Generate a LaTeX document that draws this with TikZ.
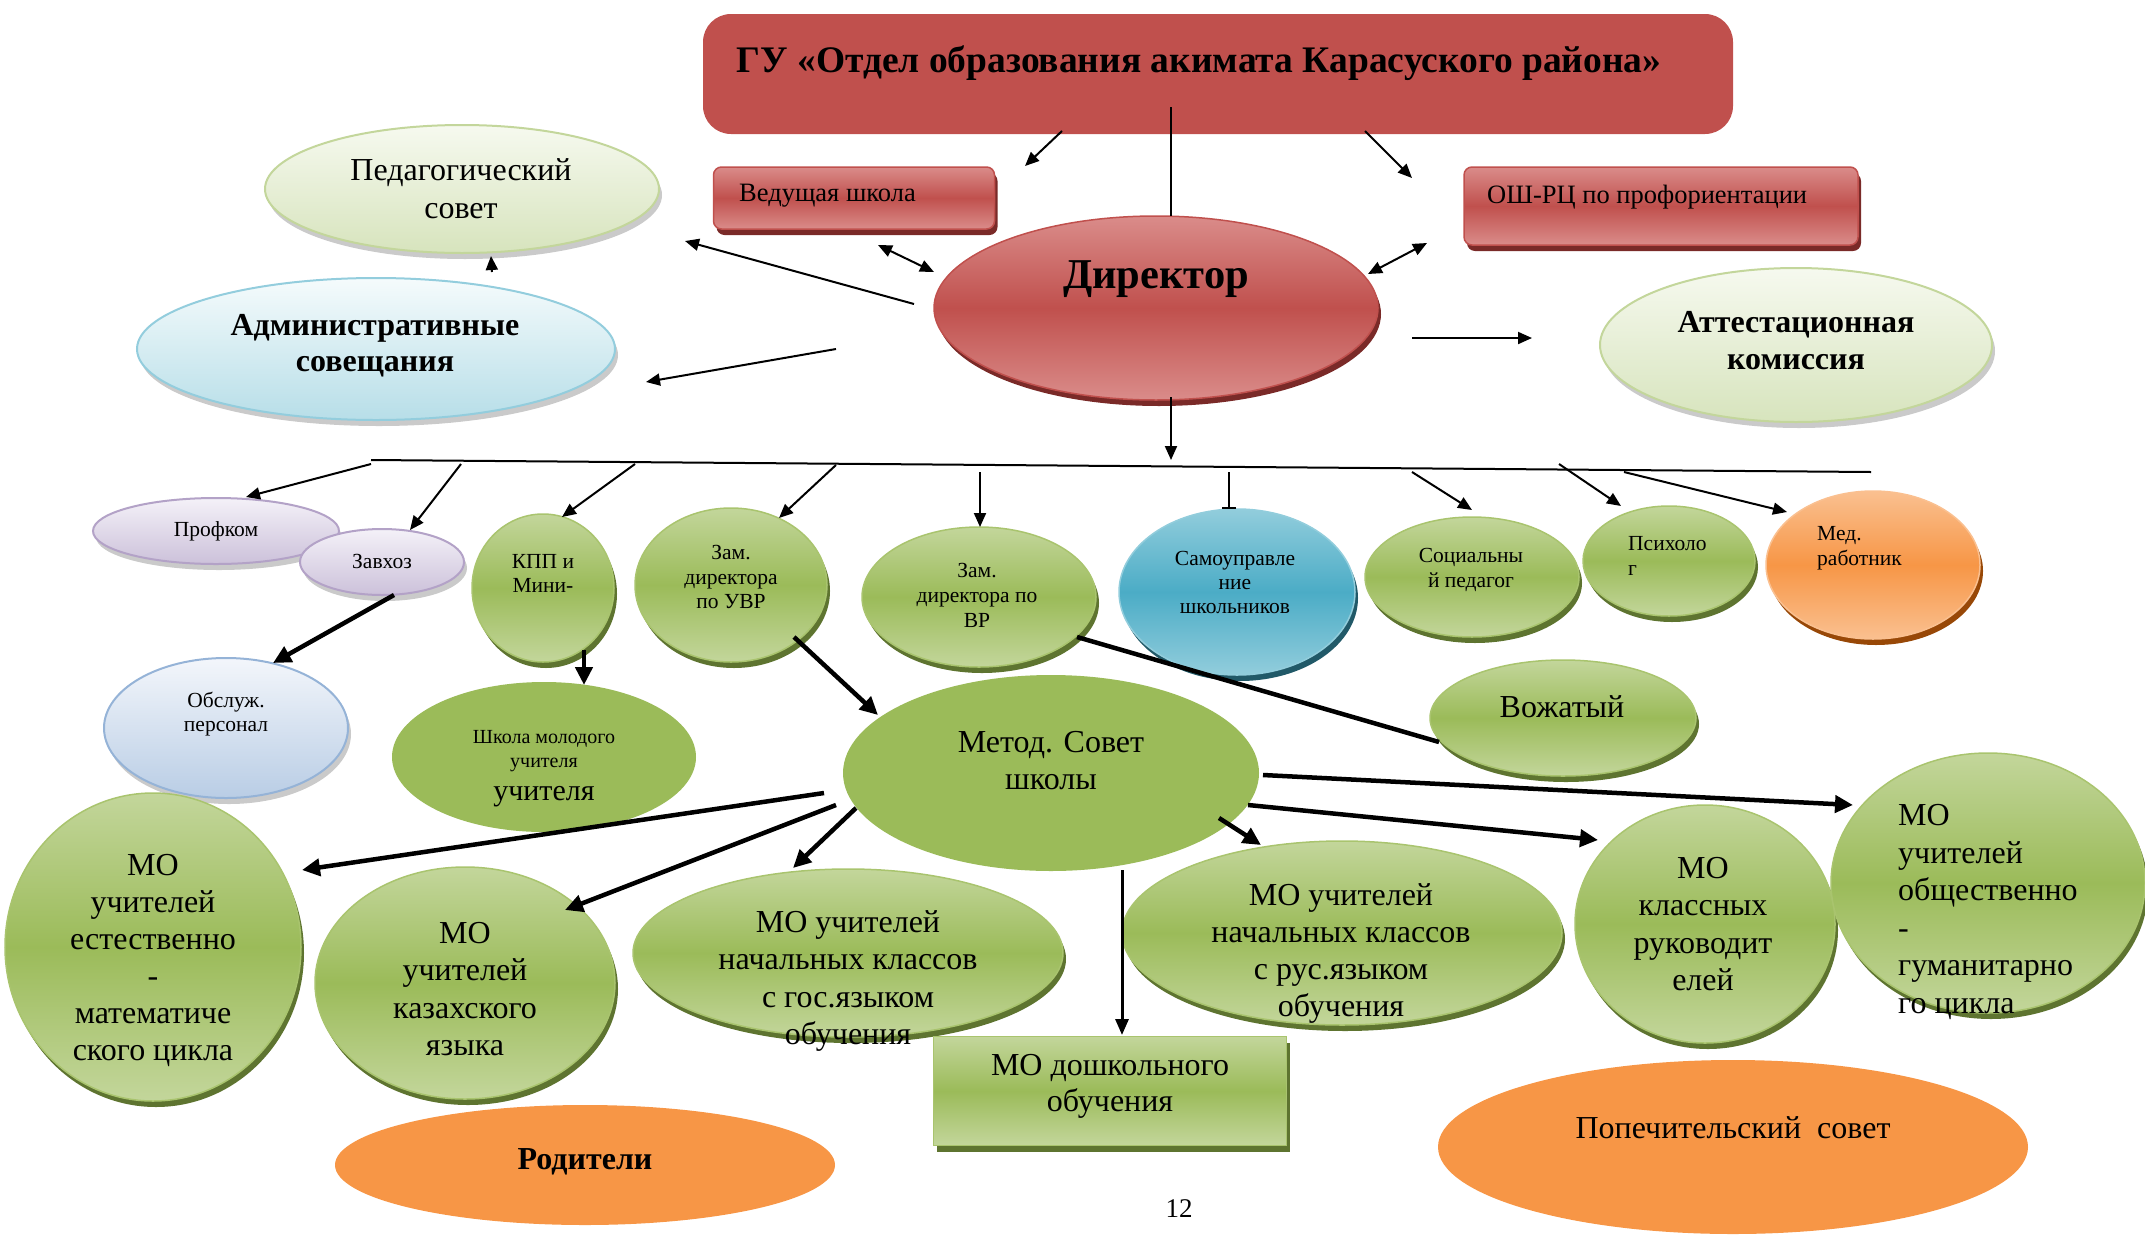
\documentclass[tikz,border=0pt]{standalone}
\usepackage{fontspec}
\setmainfont{Liberation Serif}
\usetikzlibrary{shapes.geometric,arrows.meta,shadows}
\definecolor{rM}{HTML}{C0504D}\definecolor{rL}{HTML}{DA8C8A}\definecolor{rD}{HTML}{7A2A28}
\definecolor{gM}{HTML}{9BBB59}\definecolor{gL}{HTML}{C3D69B}\definecolor{gD}{HTML}{5E7430}\definecolor{gB}{HTML}{A9C46E}
\definecolor{bM}{HTML}{4BACC6}\definecolor{bL}{HTML}{92CDDC}\definecolor{bD}{HTML}{215968}
\definecolor{oM}{HTML}{F79646}\definecolor{oL}{HTML}{FAC090}\definecolor{oD}{HTML}{984807}
\definecolor{lavT}{HTML}{F4F1F8}\definecolor{lavB}{HTML}{CCC1DA}\definecolor{lavE}{HTML}{B3A2C7}
\definecolor{pgT}{HTML}{F6F9EF}\definecolor{pgB}{HTML}{D7E4BD}\definecolor{pgE}{HTML}{C3D69B}
\definecolor{abT}{HTML}{F5FBFC}\definecolor{abB}{HTML}{B7DEE8}\definecolor{abE}{HTML}{93CDDD}
\definecolor{obT}{HTML}{F3F6FB}\definecolor{obB}{HTML}{B9CDE5}\definecolor{obE}{HTML}{95B3D7}
\newcommand\fsz[2]{\fontsize{#1}{#2}\selectfont}
\tikzset{
  ws/.style 2 args={minimum width=#1pt,minimum height=#2pt},
  ell/.style={ellipse,inner sep=0pt},
  box/.style={rectangle,inner sep=0pt},
  shd/.style={drop shadow={shadow xshift=3pt,shadow yshift=-6pt,fill=#1,opacity=1}},
  grn/.style={ell,top color=gL,bottom color=gL,middle color=gM,draw=gB,line width=1.5pt,shd=gD},
  grnbox/.style={box,top color=gL,bottom color=gL,middle color=gM,draw=gB,line width=1.5pt,shd=gD},
  grnflat/.style={ell,fill=gM},
  red3/.style={top color=rL,bottom color=rL,middle color=rM,draw=rM,line width=1.5pt,shd=rD},
  blu/.style={ell,top color=bL,bottom color=bL,middle color=bM,draw=bL,line width=1.5pt,shd=bD},
  org/.style={ell,top color=oL,bottom color=oL,middle color=oM,draw=oL,line width=1.5pt,shd=oD},
  orgflat/.style={ell,fill=oM},
  pale/.style n args={3}{ell,top color=#1,bottom color=#2,draw=#3,line width=2pt,
     drop shadow={shadow xshift=3pt,shadow yshift=-6pt,fill=black!35,opacity=0.6}},
  txt/.style={align=center,inner sep=0pt},
  ta/.style={line width=2pt,-{Triangle[length=14pt,width=12pt]}},
  tb/.style={line width=4.5pt,-{Triangle[length=18pt,width=17pt]}},
  tc/.style={line width=3pt,-{Triangle[length=16pt,width=13pt]}},
  td/.style={line width=2pt,{Triangle[length=14pt,width=12pt]}-{Triangle[length=14pt,width=12pt]}},
}
\begin{document}
\begin{tikzpicture}[x=1pt,y=-1pt]
\useasboundingbox (0,0) rectangle (2145,1240);
% ---- nodes ----
\node[box,ws={1030}{120},fill=rM,rounded corners=28pt] (gu) at (1218,74) {};
\node[box,ws={281}{62},red3,rounded corners=8pt] (ved) at (854,198) {};
\node[box,ws={394}{78},red3,rounded corners=8pt] (osh) at (1661,206) {};
\node[ell,ws={444}{184},red3] (dir) at (1156,308) {};
\node[pale={pgT}{pgB}{pgE},ws={394}{128}] (ped) at (462,189) {};
\node[pale={abT}{abB}{abE},ws={478}{142}] (adm) at (376,349) {};
\node[pale={pgT}{pgB}{pgE},ws={392}{154}] (att) at (1796,345) {};
\node[pale={lavT}{lavB}{lavE},ws={246}{66}] (prof) at (216,531) {};
\node[pale={lavT}{lavB}{lavE},ws={164}{66}] (zav) at (382,562) {};
\node[grn,ws={142}{148}] (kpp) at (543,588) {};
\node[grn,ws={192}{154}] (uvr) at (731,585) {};
\node[grn,ws={234}{140}] (vr) at (979,597) {};
\node[blu,ws={236}{166}] (self) at (1237,592) {};
\node[grn,ws={214}{120}] (soc) at (1472,577) {};
\node[grn,ws={172}{110}] (psy) at (1669,561) {};
\node[org,ws={214}{148}] (med) at (1873,565) {};
\node[pale={obT}{obB}{obE},ws={244}{140}] (obs) at (226,728) {};
\node[grnflat,ws={304}{150}] (shk) at (544,757) {};
\node[grnflat,ws={416}{196}] (met) at (1051,773) {};
\node[grn,ws={266}{116}] (voz) at (1563,718) {};
\node[grn,ws={296}{308}] (moe) at (153,947) {};
\node[grn,ws={300}{232}] (mok) at (465,983) {};
\node[grn,ws={430}{168}] (mng) at (848,953) {};
\node[grn,ws={440}{184}] (mnr) at (1342,933) {};
\node[grnbox,ws={353}{109}] (mdo) at (1110,1091) {};
\node[grn,ws={260}{238}] (mkl) at (1705,924) {};
\node[grn,ws={314}{260}] (mob) at (1988,883) {};
\node[orgflat,ws={500}{120}] (rod) at (585,1165) {};
\node[orgflat,ws={590}{174}] (pop) at (1733,1147) {};
% ---- texts ----
\node[txt,font=\fsz{37.5}{44}\bfseries] (gu-t) at (1199,63) {ГУ «Отдел образования акимата Карасуского района»};
\node[txt,anchor=west,font=\fsz{26.5}{30}] (ved-t) at (739,196) {Ведущая школа};
\node[txt,anchor=west,font=\fsz{26.5}{30}] (osh-t) at (1487,197) {ОШ-РЦ по профориентации};
\node[txt,font=\fsz{42.5}{50}\bfseries] (dir-t) at (1156,279) {Директор};
\node[txt,font=\fsz{32}{38}] (ped-t) at (461,189) {Педагогический\\совет};
\node[txt,font=\fsz{32}{36}\bfseries] (adm-t) at (375,346) {Административные\\совещания};
\node[txt,font=\fsz{32}{37}\bfseries] (att-t) at (1796,341) {Аттестационная\\комиссия};
\node[txt,font=\fsz{21.5}{24}] (prof-t) at (216,531) {Профком};
\node[txt,font=\fsz{21.5}{24}] (zav-t) at (382,561) {Завхоз};
\node[txt,font=\fsz{21.5}{24}] (kpp-t) at (543,573) {КПП и\\Мини-};
\node[txt,font=\fsz{21.5}{24.5}] (uvr-t) at (731,577) {Зам.\\директора\\по УВР};
\node[txt,font=\fsz{21.5}{25}] (vr-t) at (977,595) {Зам.\\директора по\\ВР};
\node[txt,font=\fsz{21.5}{24}] (self-t) at (1235,582) {Самоуправле\\ние\\школьников};
\node[txt,font=\fsz{21.5}{25}] (soc-t) at (1471,570) {Социальны\\й педагог};
\node[txt,align=left,anchor=west,font=\fsz{21.5}{25}] (psy-t) at (1628,556) {Психоло\\г};
\node[txt,align=left,anchor=west,font=\fsz{21.5}{25}] (med-t) at (1817,548) {Мед.\\работник};
\node[txt,font=\fsz{21.5}{24}] (obs-t) at (226,714) {Обслуж.\\персонал};
\node[txt,font=\fsz{20}{24}] (shk-t) at (544,769) {Школа молодого\\учителя\\[9pt]\fsz{30}{33}учителя};
\node[txt,font=\fsz{32}{37}] (met-t) at (1051,761) {Метод. Совет\\школы};
\node[txt,font=\fsz{32}{36}] (voz-t) at (1562,707) {Вожатый};
\node[txt,font=\fsz{32}{37}] (moe-t) at (153,960) {МО\\учителей\\естественно\\-\\математиче\\ского цикла};
\node[txt,font=\fsz{32}{37.5}] (mok-t) at (465,989) {МО\\учителей\\казахского\\языка};
\node[txt,font=\fsz{32}{37.5}] (mng-t) at (848,981) {МО учителей\\начальных классов\\с гос.языком\\обучения};
\node[txt,font=\fsz{32}{37}] (mnr-t) at (1341,953) {МО учителей\\начальных классов\\с рус.языком\\обучения};
\node[txt,font=\fsz{32}{36}] (mdo-t) at (1110,1086) {МО дошкольного\\обучения};
\node[txt,font=\fsz{32}{37.5}] (mkl-t) at (1703,924) {МО\\классных\\руководит\\елей};
\node[txt,align=left,anchor=west,font=\fsz{32}{37.5}] (mob-t) at (1898,912) {МО\\учителей\\общественно\\-\\гуманитарно\\го цикла};
\node[txt,font=\fsz{32}{36}\bfseries] (rod-t) at (585,1162) {Родители};
\node[txt,font=\fsz{32}{36}] (pop-t) at (1733,1128) {Попечительский~ совет};
\node[txt,font=\fsz{27}{30}] (pg) at (1179,1209) {12};
% ---- connector end points ----
\coordinate (hlA) at (371,460); \coordinate (hlB) at (1871,472);
\coordinate (gu1) at (1062,131); \coordinate (ved1) at (1025,166);
\coordinate (gu2) at (1365,131); \coordinate (osh1) at (1412,178);
\coordinate (gu3) at (1171,107); \coordinate (dir0) at (1171,216);
\coordinate (ved2) at (878,245); \coordinate (dir1) at (934,272);
\coordinate (dir2) at (1368,274); \coordinate (osh2) at (1427,243);
\coordinate (dir3) at (914,304); \coordinate (ped1) at (685,241);
\coordinate (ped2a) at (492,272); \coordinate (ped2) at (491,256);
\coordinate (dir4) at (836,349); \coordinate (adm1) at (646,382);
\coordinate (dir5) at (1412,338); \coordinate (att1) at (1532,338);
\coordinate (dir6) at (1171,397); \coordinate (hl0) at (1171,460);
\coordinate (h1) at (371,464); \coordinate (prof1) at (246,497);
\coordinate (h2) at (461,464); \coordinate (zav1) at (410,530);
\coordinate (h3) at (635,464); \coordinate (kpp1) at (562,517);
\coordinate (h4) at (836,465); \coordinate (uvr1) at (779,518);
\coordinate (h5) at (980,472); \coordinate (vr1) at (980,527);
\coordinate (h6) at (1229,472); \coordinate (self1) at (1229,509);
\coordinate (h7) at (1412,472); \coordinate (soc1) at (1472,510);
\coordinate (h8) at (1559,464); \coordinate (psy1) at (1621,506);
\coordinate (h9) at (1624,472); \coordinate (med1) at (1787,512);
\coordinate (zav2) at (394,595); \coordinate (obs1) at (273,663);
\coordinate (kpp2) at (584,650); \coordinate (shk1) at (584,685);
\coordinate (uvr2) at (794,637); \coordinate (met1) at (878,715);
\coordinate (vr2) at (1077,637); \coordinate (voz1) at (1439,742);
\coordinate (met2) at (824,793); \coordinate (moe1) at (302,870);
\coordinate (met3) at (836,805); \coordinate (mok1) at (565,910);
\coordinate (met4) at (856,808); \coordinate (mng1) at (793,868);
\coordinate (met5) at (1122,870); \coordinate (mdo1) at (1122,1035);
\coordinate (met6) at (1219,818); \coordinate (mnr1) at (1261,845);
\coordinate (met7) at (1248,805); \coordinate (mkl1) at (1598,840);
\coordinate (met8) at (1263,775); \coordinate (mob1) at (1853,805);
% ---- connectors ----
\draw[line width=2pt] (hlA) -- (hlB);
\draw[ta] (gu1) -- (ved1);
\draw[ta] (gu2) -- (osh1);
\draw[line width=2pt] (gu3) -- (dir0);
\draw[td] (ved2) -- (dir1);
\draw[td] (dir2) -- (osh2);
\draw[ta] (dir3) -- (ped1);
\draw[ta] (ped2a) -- (ped2);
\draw[ta] (dir4) -- (adm1);
\draw[ta] (dir5) -- (att1);
\draw[ta] (dir6) -- (hl0);
\draw[ta] (h1) -- (prof1);
\draw[ta] (h2) -- (zav1);
\draw[ta] (h3) -- (kpp1);
\draw[ta] (h4) -- (uvr1);
\draw[ta] (h5) -- (vr1);
\draw[line width=2pt,-{Bar[width=14pt,line width=2pt]}] (h6) -- (self1);
\draw[ta] (h7) -- (soc1);
\draw[ta] (h8) -- (psy1);
\draw[ta] (h9) -- (med1);
\draw[tb] (zav2) -- (obs1);
\draw[tb] (kpp2) -- (shk1);
\draw[tb] (uvr2) -- (met1);
\draw[line width=4.5pt] (vr2) -- (voz1);
\draw[tb] (met2) -- (moe1);
\draw[tb] (met3) -- (mok1);
\draw[tb] (met4) -- (mng1);
\draw[tc] (met5) -- (mdo1);
\draw[tb] (met6) -- (mnr1);
\draw[tb] (met7) -- (mkl1);
\draw[tb] (met8) -- (mob1);
\end{tikzpicture}
\end{document}
